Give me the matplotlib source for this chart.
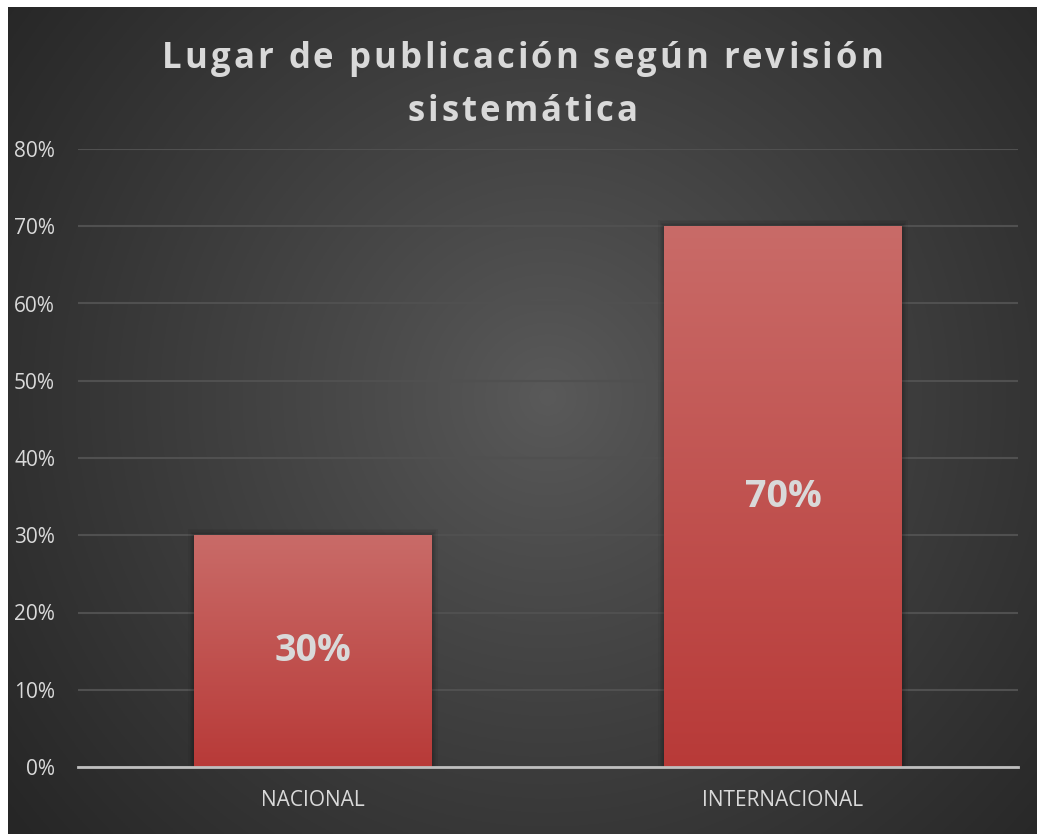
import numpy as np
import matplotlib
matplotlib.use("Agg")
import matplotlib.pyplot as plt
from matplotlib.ticker import FuncFormatter, MultipleLocator
from matplotlib.patches import Rectangle

categories = ["NACIONAL", "INTERNACIONAL"]
values = [0.30, 0.70]
labels = ["30%", "70%"]
title_lines = ["Lugar de publicación según revisión", "sistemática"]

W, H = 1037, 834
fig = plt.figure(figsize=(W / 100, H / 100), dpi=100)
fig.patch.set_facecolor("white")

# background radial gradient
bg = fig.add_axes([8 / W, 0, (W - 8) / W, (H - 7) / H])
bg.set_axis_off()
yy, xx = np.mgrid[0:400, 0:500]
xs = xx / 499 * (W - 8)
ys = yy / 399 * (H - 7)
cx, cy = 540, 390
d = np.sqrt((xs - cx) ** 2 + (ys - cy) ** 2) / np.sqrt(540 ** 2 + 430 ** 2)
d = np.clip(d, 0, 1) ** 0.9
light = np.array([0x5a, 0x5a, 0x5a]) / 255
dark = np.array([0x26, 0x26, 0x26]) / 255
img = light[None, None, :] * (1 - d[..., None]) + dark[None, None, :] * d[..., None]
bg.imshow(img, aspect="auto", extent=(0, 1, 0, 1), origin="upper")
bg.set_xlim(0, 1)
bg.set_ylim(0, 1)

ax = fig.add_axes([78 / W, (H - 767) / H, 940 / W, (767 - 149) / H])
ax.patch.set_alpha(0)
ax.set_ylim(0, 0.8)
ax.set_xlim(-0.5, 1.5)
ax.yaxis.set_major_locator(MultipleLocator(0.1))
ax.yaxis.set_major_formatter(FuncFormatter(lambda v, p: f"{v*100:.0f}%"))
ax.grid(axis="y", color="#505050", linewidth=1.5, zorder=0)
ax.set_axisbelow(True)
for s in ["top", "right", "left"]:
    ax.spines[s].set_visible(False)
ax.spines["bottom"].set_color("#bfbfbf")
ax.spines["bottom"].set_linewidth(2)
ax.spines["bottom"].set_zorder(5)
ax.tick_params(axis="both", length=0, colors="#d9d9d9", labelsize=15)
ax.tick_params(axis="y", pad=16.5)
ax.tick_params(axis="x", pad=16.5)
for t in ax.get_yticklabels():
    t.set_fontfamily("Open Sans")
x = np.arange(len(categories))
bars = ax.bar(x, values, width=0.505, color="#c24f4c", zorder=2)
ax.set_xticks(x)
ax.set_xticklabels(categories, fontfamily="Open Sans")

# soft shadow
for b in bars:
    x0, w, h = b.get_x(), b.get_width(), b.get_height()
    for k in range(1, 6):
        dx = k * 0.0025
        dy = k * 0.0016
        ax.add_patch(Rectangle((x0 - dx, 0), w + 2 * dx, h + dy, facecolor="black",
                               edgecolor="none", alpha=0.05, zorder=1.5))

top_c = np.array([201, 107, 104]) / 255
bot_c = np.array([184, 58, 56]) / 255
g = np.linspace(0, 1, 256)[:, None]
grad = top_c[None, None, :] * (1 - g[..., None]) + bot_c[None, None, :] * g[..., None]
for b in bars:
    x0, w, h = b.get_x(), b.get_width(), b.get_height()
    im = ax.imshow(grad, aspect="auto", extent=(x0, x0 + w, 0, h), origin="upper", zorder=3)
    im.set_clip_path(b)
ax.set_xlim(-0.5, 1.5)
ax.set_ylim(0, 0.8)

for xi, v, lab in zip(x, values, labels):
    ax.text(xi, v / 2, lab, ha="center", va="center", color="#d9d9d9",
            fontsize=27, fontweight="bold", fontfamily="Open Sans", zorder=6)

# letter-spaced title
renderer = fig.canvas.get_renderer()
spacing = 3.0  # px
fs = 25
line_base = [H - 68, H - 121]
tkw = dict(fontsize=fs, fontweight="bold", fontfamily="Open Sans")
for line, ypix in zip(title_lines, line_base):
    texts = [fig.text(0, ypix / H, ch, ha="left", va="baseline", color="#d9d9d9", **tkw)
             for ch in line]
    widths = []
    for i, ch in enumerate(line):
        if ch == " ":
            t = fig.text(0, 0, "a a", **tkw)
            t2 = fig.text(0, 0, "aa", **tkw)
            wv = t.get_window_extent(renderer).width - t2.get_window_extent(renderer).width
            t.remove(); t2.remove()
        else:
            wv = texts[i].get_window_extent(renderer).width
        widths.append(wv)
    total = sum(widths) + spacing * (len(line) - 1)
    xcur = (W + 8) / 2 - total / 2
    for t, wv in zip(texts, widths):
        t.set_x(xcur / W)
        xcur += wv + spacing

fig.savefig("out.png", dpi=100, facecolor=fig.get_facecolor())
